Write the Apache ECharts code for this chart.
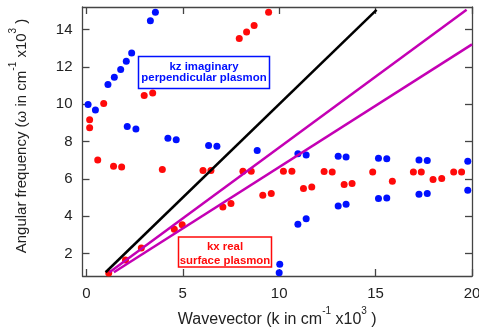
<!DOCTYPE html>
<html>
<head>
<meta charset="utf-8">
<script src="https://cdn.jsdelivr.net/npm/echarts@6.0.0/dist/echarts.min.js"></script>
<style>
  html, body { margin: 0; padding: 0; background: #fff; }
  #chart { width: 479px; height: 333px; }
</style>
</head>
<body>
<div id="chart"></div>
<script>
// wavevector k, angular frequency w (both x10^3 cm^-1)
const blueDots = [
  [0.09, 9.98], [0.47, 9.68], [1.12, 11.05], [1.45, 11.44], [1.78, 11.86],
  [2.07, 12.3], [2.35, 12.74], [3.32, 14.46], [3.58, 14.92],
  [2.12, 8.8], [2.57, 8.67], [4.23, 8.18], [4.66, 8.09], [6.34, 7.79], [6.77, 7.75],
  [8.86, 7.52], [10.97, 7.34], [11.4, 7.28], [13.06, 7.21], [13.47, 7.17],
  [15.15, 7.1], [15.58, 7.07], [17.25, 7.01], [17.68, 6.98], [19.78, 6.94],
  [10.97, 3.57], [11.4, 3.87], [13.06, 4.55], [13.47, 4.64], [15.15, 4.95],
  [15.58, 4.98], [17.25, 5.18], [17.68, 5.21], [19.78, 5.39],
  [10.03, 1.43], [10.0, 0.98]
];
const redDots = [
  [0.17, 9.16], [0.17, 8.73], [0.9, 10.03], [3.0, 10.46], [3.44, 10.6],
  [7.93, 13.52], [8.31, 13.86], [8.7, 14.21], [9.45, 14.92],
  [0.59, 7.01], [1.41, 6.67], [1.83, 6.64], [3.94, 6.5], [6.05, 6.45], [6.46, 6.45],
  [8.12, 6.41], [8.55, 6.41], [10.22, 6.41], [10.66, 6.41], [12.33, 6.39],
  [12.75, 6.37], [14.85, 6.37], [16.96, 6.37], [17.37, 6.37], [19.05, 6.37], [19.46, 6.37],
  [9.15, 5.12], [9.59, 5.21], [11.26, 5.48], [11.69, 5.57], [13.37, 5.7],
  [13.78, 5.75], [15.87, 5.87], [17.98, 5.96], [18.43, 6.02],
  [1.16, 0.96], [2.03, 1.66], [2.85, 2.3], [4.56, 3.3], [4.97, 3.55], [7.08, 4.5], [7.5, 4.68]
];
const lightLine = [[1.0, 1.0], [15.05, 15.05]];
const upperPlasmon = [[1.2, 1.0], [19.72, 15.05]];
const lowerPlasmon = [[1.43, 1.0], [20.0, 13.2]];
const xTicks = [0, 5, 10, 15, 20];
const yTicks = [2, 4, 6, 8, 10, 12, 14];

const font = 'Liberation Sans, Arial, sans-serif';
const axisColor = '#444';
const sup = { fontSize: 10, lineHeight: 10, verticalAlign: 'top', fontFamily: font, color: '#222' };

function frameAxis(pos, ticks, labels) {
  return {
    type: 'value',
    position: pos,
    axisLine: { show: true, onZero: false, lineStyle: { color: axisColor, width: 1.3 } },
    axisTick: { show: true, inside: true, length: 7, customValues: ticks, lineStyle: { color: axisColor, width: 1.3 } },
    axisLabel: labels ? { show: true, customValues: ticks, margin: 10, fontSize: 15, color: '#222', fontFamily: font } : { show: false },
    splitLine: { show: false }
  };
}

const chart = echarts.init(document.getElementById('chart'));

chart.setOption({
  animation: false,
  backgroundColor: '#fff',
  grid: { left: 82.5, right: 7, top: 7, bottom: 57, outerBoundsMode: 'none' },
  xAxis: [
    Object.assign(frameAxis('bottom', xTicks, true), {
      min: -0.2, max: 20,
      name: 'Wavevector (k in cm{s|-1} x10{s|3} )',
      nameLocation: 'middle', nameGap: 20,
      nameTextStyle: { fontSize: 16, color: '#222', fontFamily: font, lineHeight: 28, rich: { s: sup } }
    }),
    Object.assign(frameAxis('top', xTicks, false), { min: -0.2, max: 20 })
  ],
  yAxis: [
    Object.assign(frameAxis('left', yTicks, true), {
      min: 0.8, max: 15.2,
      name: 'Angular frequency (\u03c9 in cm{s|-1} x10{s|3} )',
      nameLocation: 'middle', nameGap: 47,
      nameTextStyle: { fontSize: 15, color: '#222', fontFamily: font, lineHeight: 27,
                       padding: [0, 0, 0, 11], rich: { s: sup } }
    }),
    Object.assign(frameAxis('right', yTicks, false), { min: 0.8, max: 15.2 })
  ],
  series: [
    { type: 'scatter', data: blueDots, symbolSize: 7, itemStyle: { color: '#0010ff', opacity: 1 }, z: 2 },
    { type: 'scatter', data: redDots, symbolSize: 7, itemStyle: { color: '#ff0a0a', opacity: 1 }, z: 2 },
    { type: 'line', data: lightLine, showSymbol: false, lineStyle: { color: '#000', width: 2.5 }, z: 3 },
    { type: 'line', data: upperPlasmon, showSymbol: false, lineStyle: { color: '#c400b4', width: 2.5 }, z: 3 },
    { type: 'line', data: lowerPlasmon, showSymbol: false, lineStyle: { color: '#c400b4', width: 2.5 }, z: 3 }
  ],
  graphic: [
    {
      type: 'group', z: 10,
      children: [
        { type: 'rect', shape: { x: 138.5, y: 56.5, width: 131, height: 32 },
          style: { fill: '#fff', stroke: '#0010ff', lineWidth: 1.5 } },
        { type: 'text', x: 204, y: 72.5,
          style: { text: 'kz imaginary\nperpendicular plasmon', align: 'center', verticalAlign: 'middle',
                   font: 'bold 11.4px ' + font, lineHeight: 11.5, fill: '#0010ff' } }
      ]
    },
    {
      type: 'group', z: 10,
      children: [
        { type: 'rect', shape: { x: 178.5, y: 237, width: 93, height: 30 },
          style: { fill: '#fff', stroke: '#ff0a0a', lineWidth: 1.5 } },
        { type: 'text', x: 225, y: 253.5,
          style: { text: 'kx real\nsurface plasmon', align: 'center', verticalAlign: 'middle',
                   font: 'bold 11.4px ' + font, lineHeight: 14, fill: '#ff0a0a' } }
      ]
    }
  ]
});
</script>
</body>
</html>
